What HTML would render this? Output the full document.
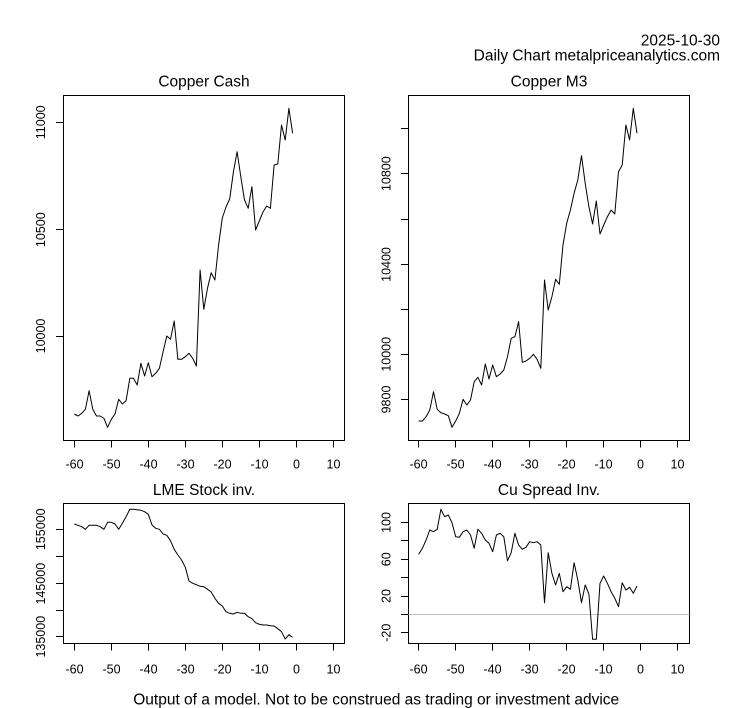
<!DOCTYPE html>
<html>
<head>
<meta charset="utf-8">
<style>
  html, body { margin: 0; padding: 0; background: #ffffff; }
  svg { display: block; }
  text { font-family: "Liberation Sans", Arial, sans-serif; fill: #000; }
  .t { font-size: 15.5px; }
  .ax { font-size: 12.5px; }
</style>
</head>
<body>
<svg width="753" height="708" viewBox="0 0 753 708" xmlns="http://www.w3.org/2000/svg">
  <rect x="0" y="0" width="753" height="708" fill="#ffffff"/>

  <!-- Header -->
  <text class="t" x="720" y="45.3" text-anchor="end">2025-10-30</text>
  <text class="t" x="720" y="60.7" text-anchor="end">Daily Chart metalpriceanalytics.com</text>

  <!-- Titles -->
  <text class="t" x="204" y="86.7" text-anchor="middle">Copper Cash</text>
  <text class="t" x="549" y="86.7" text-anchor="middle">Copper M3</text>
  <text class="t" x="204" y="495" text-anchor="middle">LME Stock inv.</text>
  <text class="t" x="549" y="495" text-anchor="middle">Cu Spread Inv.</text>

  <!-- Footer -->
  <text class="t" x="376.2" y="704.5" text-anchor="middle">Output of a model. Not to be construed as trading or investment advice</text>

  <!-- Boxes -->
  <g fill="none" stroke="#000" stroke-width="1">
    <rect x="63.5" y="95.5" width="281" height="345"/>
    <rect x="408.5" y="95.5" width="281" height="345"/>
    <rect x="63.5" y="503.5" width="281" height="140"/>
    <rect x="408.5" y="503.5" width="281" height="140"/>
  </g>

  <!-- Zero line in spread panel -->
  <line x1="408.5" y1="614.5" x2="689.5" y2="614.5" stroke="#bebebe" stroke-width="1"/>

  <!-- X ticks -->
  <g stroke="#000" stroke-width="1">
    <!-- top-left -->
    <line x1="74.5" y1="440.5" x2="74.5" y2="447.5"/>
    <line x1="111.5" y1="440.5" x2="111.5" y2="447.5"/>
    <line x1="148.5" y1="440.5" x2="148.5" y2="447.5"/>
    <line x1="185.5" y1="440.5" x2="185.5" y2="447.5"/>
    <line x1="222.5" y1="440.5" x2="222.5" y2="447.5"/>
    <line x1="259.5" y1="440.5" x2="259.5" y2="447.5"/>
    <line x1="296.5" y1="440.5" x2="296.5" y2="447.5"/>
    <line x1="333.5" y1="440.5" x2="333.5" y2="447.5"/>
    <!-- top-right -->
    <line x1="418.5" y1="440.5" x2="418.5" y2="447.5"/>
    <line x1="455.5" y1="440.5" x2="455.5" y2="447.5"/>
    <line x1="492.5" y1="440.5" x2="492.5" y2="447.5"/>
    <line x1="529.5" y1="440.5" x2="529.5" y2="447.5"/>
    <line x1="566.5" y1="440.5" x2="566.5" y2="447.5"/>
    <line x1="603.5" y1="440.5" x2="603.5" y2="447.5"/>
    <line x1="640.5" y1="440.5" x2="640.5" y2="447.5"/>
    <line x1="677.5" y1="440.5" x2="677.5" y2="447.5"/>
    <!-- bottom-left -->
    <line x1="74.5" y1="643.5" x2="74.5" y2="650.5"/>
    <line x1="111.5" y1="643.5" x2="111.5" y2="650.5"/>
    <line x1="148.5" y1="643.5" x2="148.5" y2="650.5"/>
    <line x1="185.5" y1="643.5" x2="185.5" y2="650.5"/>
    <line x1="222.5" y1="643.5" x2="222.5" y2="650.5"/>
    <line x1="259.5" y1="643.5" x2="259.5" y2="650.5"/>
    <line x1="296.5" y1="643.5" x2="296.5" y2="650.5"/>
    <line x1="333.5" y1="643.5" x2="333.5" y2="650.5"/>
    <!-- bottom-right -->
    <line x1="418.5" y1="643.5" x2="418.5" y2="650.5"/>
    <line x1="455.5" y1="643.5" x2="455.5" y2="650.5"/>
    <line x1="492.5" y1="643.5" x2="492.5" y2="650.5"/>
    <line x1="529.5" y1="643.5" x2="529.5" y2="650.5"/>
    <line x1="566.5" y1="643.5" x2="566.5" y2="650.5"/>
    <line x1="603.5" y1="643.5" x2="603.5" y2="650.5"/>
    <line x1="640.5" y1="643.5" x2="640.5" y2="650.5"/>
    <line x1="677.5" y1="643.5" x2="677.5" y2="650.5"/>
  </g>

  <!-- X tick labels -->
  <g class="ax" text-anchor="middle">
    <text x="74.5" y="468.5">-60</text>
    <text x="111.5" y="468.5">-50</text>
    <text x="148.5" y="468.5">-40</text>
    <text x="185.5" y="468.5">-30</text>
    <text x="222.5" y="468.5">-20</text>
    <text x="259.5" y="468.5">-10</text>
    <text x="296.5" y="468.5">0</text>
    <text x="333.5" y="468.5">10</text>

    <text x="418.5" y="468.5">-60</text>
    <text x="455.5" y="468.5">-50</text>
    <text x="492.5" y="468.5">-40</text>
    <text x="529.5" y="468.5">-30</text>
    <text x="566.5" y="468.5">-20</text>
    <text x="603.5" y="468.5">-10</text>
    <text x="640.5" y="468.5">0</text>
    <text x="677.5" y="468.5">10</text>

    <text x="74.5" y="673.5">-60</text>
    <text x="111.5" y="673.5">-50</text>
    <text x="148.5" y="673.5">-40</text>
    <text x="185.5" y="673.5">-30</text>
    <text x="222.5" y="673.5">-20</text>
    <text x="259.5" y="673.5">-10</text>
    <text x="296.5" y="673.5">0</text>
    <text x="333.5" y="673.5">10</text>

    <text x="418.5" y="673.5">-60</text>
    <text x="455.5" y="673.5">-50</text>
    <text x="492.5" y="673.5">-40</text>
    <text x="529.5" y="673.5">-30</text>
    <text x="566.5" y="673.5">-20</text>
    <text x="603.5" y="673.5">-10</text>
    <text x="640.5" y="673.5">0</text>
    <text x="677.5" y="673.5">10</text>
  </g>

  <!-- Y ticks -->
  <g stroke="#000" stroke-width="1">
    <!-- top-left -->
    <line x1="56" y1="122.5" x2="63.5" y2="122.5"/>
    <line x1="56" y1="229.5" x2="63.5" y2="229.5"/>
    <line x1="56" y1="336.5" x2="63.5" y2="336.5"/>
    <!-- top-right -->
    <line x1="401" y1="128.5" x2="408.5" y2="128.5"/>
    <line x1="401" y1="173.5" x2="408.5" y2="173.5"/>
    <line x1="401" y1="219.5" x2="408.5" y2="219.5"/>
    <line x1="401" y1="264.5" x2="408.5" y2="264.5"/>
    <line x1="401" y1="309.5" x2="408.5" y2="309.5"/>
    <line x1="401" y1="354.5" x2="408.5" y2="354.5"/>
    <line x1="401" y1="399.5" x2="408.5" y2="399.5"/>
    <!-- bottom-left -->
    <line x1="56" y1="529.5" x2="63.5" y2="529.5"/>
    <line x1="56" y1="556.5" x2="63.5" y2="556.5"/>
    <line x1="56" y1="583.5" x2="63.5" y2="583.5"/>
    <line x1="56" y1="610.5" x2="63.5" y2="610.5"/>
    <line x1="56" y1="636.5" x2="63.5" y2="636.5"/>
    <!-- bottom-right -->
    <line x1="401" y1="522.5" x2="408.5" y2="522.5"/>
    <line x1="401" y1="540.5" x2="408.5" y2="540.5"/>
    <line x1="401" y1="559.5" x2="408.5" y2="559.5"/>
    <line x1="401" y1="577.5" x2="408.5" y2="577.5"/>
    <line x1="401" y1="596.5" x2="408.5" y2="596.5"/>
    <line x1="401" y1="614.5" x2="408.5" y2="614.5"/>
    <line x1="401" y1="632.5" x2="408.5" y2="632.5"/>
  </g>

  <!-- Y tick labels (rotated) -->
  <g class="ax" text-anchor="middle">
    <text transform="translate(45,122.3) rotate(-90)">11000</text>
    <text transform="translate(45,229.7) rotate(-90)">10500</text>
    <text transform="translate(45,336) rotate(-90)">10000</text>

    <text transform="translate(390.5,173.7) rotate(-90)">10800</text>
    <text transform="translate(390.5,264.5) rotate(-90)">10400</text>
    <text transform="translate(390.5,354.3) rotate(-90)">10000</text>
    <text transform="translate(390.5,399.5) rotate(-90)">9800</text>

    <text transform="translate(45,529.3) rotate(-90)">155000</text>
    <text transform="translate(45,583.7) rotate(-90)">145000</text>
    <text transform="translate(45,636.7) rotate(-90)">135000</text>

    <text transform="translate(390.5,522.5) rotate(-90)">100</text>
    <text transform="translate(390.5,559.3) rotate(-90)">60</text>
    <text transform="translate(390.5,596) rotate(-90)">20</text>
    <text transform="translate(390.5,632.7) rotate(-90)">-20</text>
  </g>

  <!-- Series -->
  <g fill="none" stroke="#000" stroke-width="1" stroke-linejoin="round">
    <!-- Copper Cash -->
    <polyline points="74.3,414 78.0,416 81.7,413.3 85.4,409.3 89.1,390.7 92.8,409.3 96.5,416 100.2,416 103.9,418.3 107.6,427.3 111.3,419.3 115.0,414 118.7,399.3 122.4,404 126.1,400.7 129.8,378.3 133.5,378.3 137.2,385 140.9,363.3 144.6,376 148.3,362.7 152.0,376.7 155.7,373.3 159.4,368.3 163.1,351.7 166.8,336 170.5,339.3 174.2,321 177.9,359.3 181.6,359.3 185.3,356.7 189.0,353.3 192.7,358.3 196.4,366 200.1,270 203.8,309.3 207.5,288.3 211.2,272.7 214.9,280 218.6,245 222.3,218 226.0,207 229.7,199 233.4,172 237.1,151.7 240.8,176.7 244.5,200 248.2,208.3 251.9,186.7 255.6,230 259.3,221 263.0,212 266.7,206 270.4,208.3 274.1,165 277.8,164 281.5,125 285.2,140 288.9,108.3 292.6,133.3"/>

    <!-- LME Stock inv. -->
    <polyline points="74.3,524 78.0,525.3 81.7,526.7 85.4,529.3 89.1,525.3 92.8,525.3 96.5,525.3 100.2,526.7 103.9,529.3 107.6,522.3 111.3,522.3 115.0,524 118.7,529.3 122.4,523.3 126.1,516.7 129.8,509.3 133.5,509.3 137.2,509.7 140.9,510.3 144.6,511.7 148.3,514.3 152.0,525 155.7,528.3 159.4,529.3 163.1,534 166.8,535.3 170.5,540.7 174.2,549.3 177.9,555 181.6,560 185.3,567.3 189.0,581 192.7,583.3 196.4,584.7 200.1,586.3 203.8,586.7 207.5,589.3 211.2,592 214.9,598.3 218.6,603.3 222.3,606 226.0,611.7 229.7,613.3 233.4,614 237.1,612.3 240.8,613.3 244.5,613.3 248.2,616.7 251.9,618.7 255.6,622.7 259.3,624.3 263.0,625 266.7,625 270.4,625.7 274.1,626 277.8,628.7 281.5,631.7 285.2,639 288.9,634.7 292.6,637.3"/>

    <g transform="translate(344.4,0)">
      <!-- Copper M3 -->
      <polyline points="74.3,421 78.0,421 81.7,416.7 85.4,410 89.1,391.7 92.8,409.3 96.5,412.7 100.2,414 103.9,415.7 107.6,427.3 111.3,421 115.0,413.3 118.7,399.3 122.4,405 126.1,400 129.8,381.7 133.5,377.3 137.2,385 140.9,364 144.6,379 148.3,365 152.0,376.7 155.7,374 159.4,370 163.1,356.7 166.8,338.3 170.5,336.7 174.2,321.7 177.9,362.3 181.6,361 185.3,358.3 189.0,354.3 192.7,359.3 196.4,368.3 200.1,280 203.8,310 207.5,296.7 211.2,279.3 214.9,284.3 218.6,245 222.3,223.3 226.0,210 229.7,193.3 233.4,180 237.1,155.7 240.8,183.3 244.5,206.7 248.2,224 251.9,201 255.6,234 259.3,225 263.0,216.7 266.7,210 270.4,214 274.1,171.7 277.8,165 281.5,125 285.2,140 288.9,108.3 292.6,133.3"/>

      <!-- Cu Spread Inv. -->
      <polyline points="74.3,554.3 78.0,548.3 81.7,540 85.4,530 89.1,531.7 92.8,529.3 96.5,509.3 100.2,516.7 103.9,515 107.6,522.7 111.3,536.7 115.0,537.3 118.7,531.7 122.4,530 126.1,535 129.8,548.3 133.5,529.3 137.2,533.3 140.9,540 144.6,543.3 148.3,551.7 152.0,535 155.7,533.3 159.4,536.7 163.1,560.7 166.8,552.7 170.5,533.3 174.2,545 177.9,549.3 181.6,547.3 185.3,541.7 189.0,542.7 192.7,541.7 196.4,545 200.1,602.7 203.8,552.7 207.5,573.3 211.2,585 214.9,573.3 218.6,591.7 222.3,586.7 226.0,589.3 229.7,562.7 233.4,580 237.1,602.7 240.8,585 244.5,594 248.2,639.3 251.9,639.3 255.6,583.3 259.3,576 263.0,583.3 266.7,591.7 270.4,598.3 274.1,606.7 277.8,582.7 281.5,590 285.2,587.3 288.9,593.3 292.6,586"/>
    </g>
  </g>
</svg>
</body>
</html>
